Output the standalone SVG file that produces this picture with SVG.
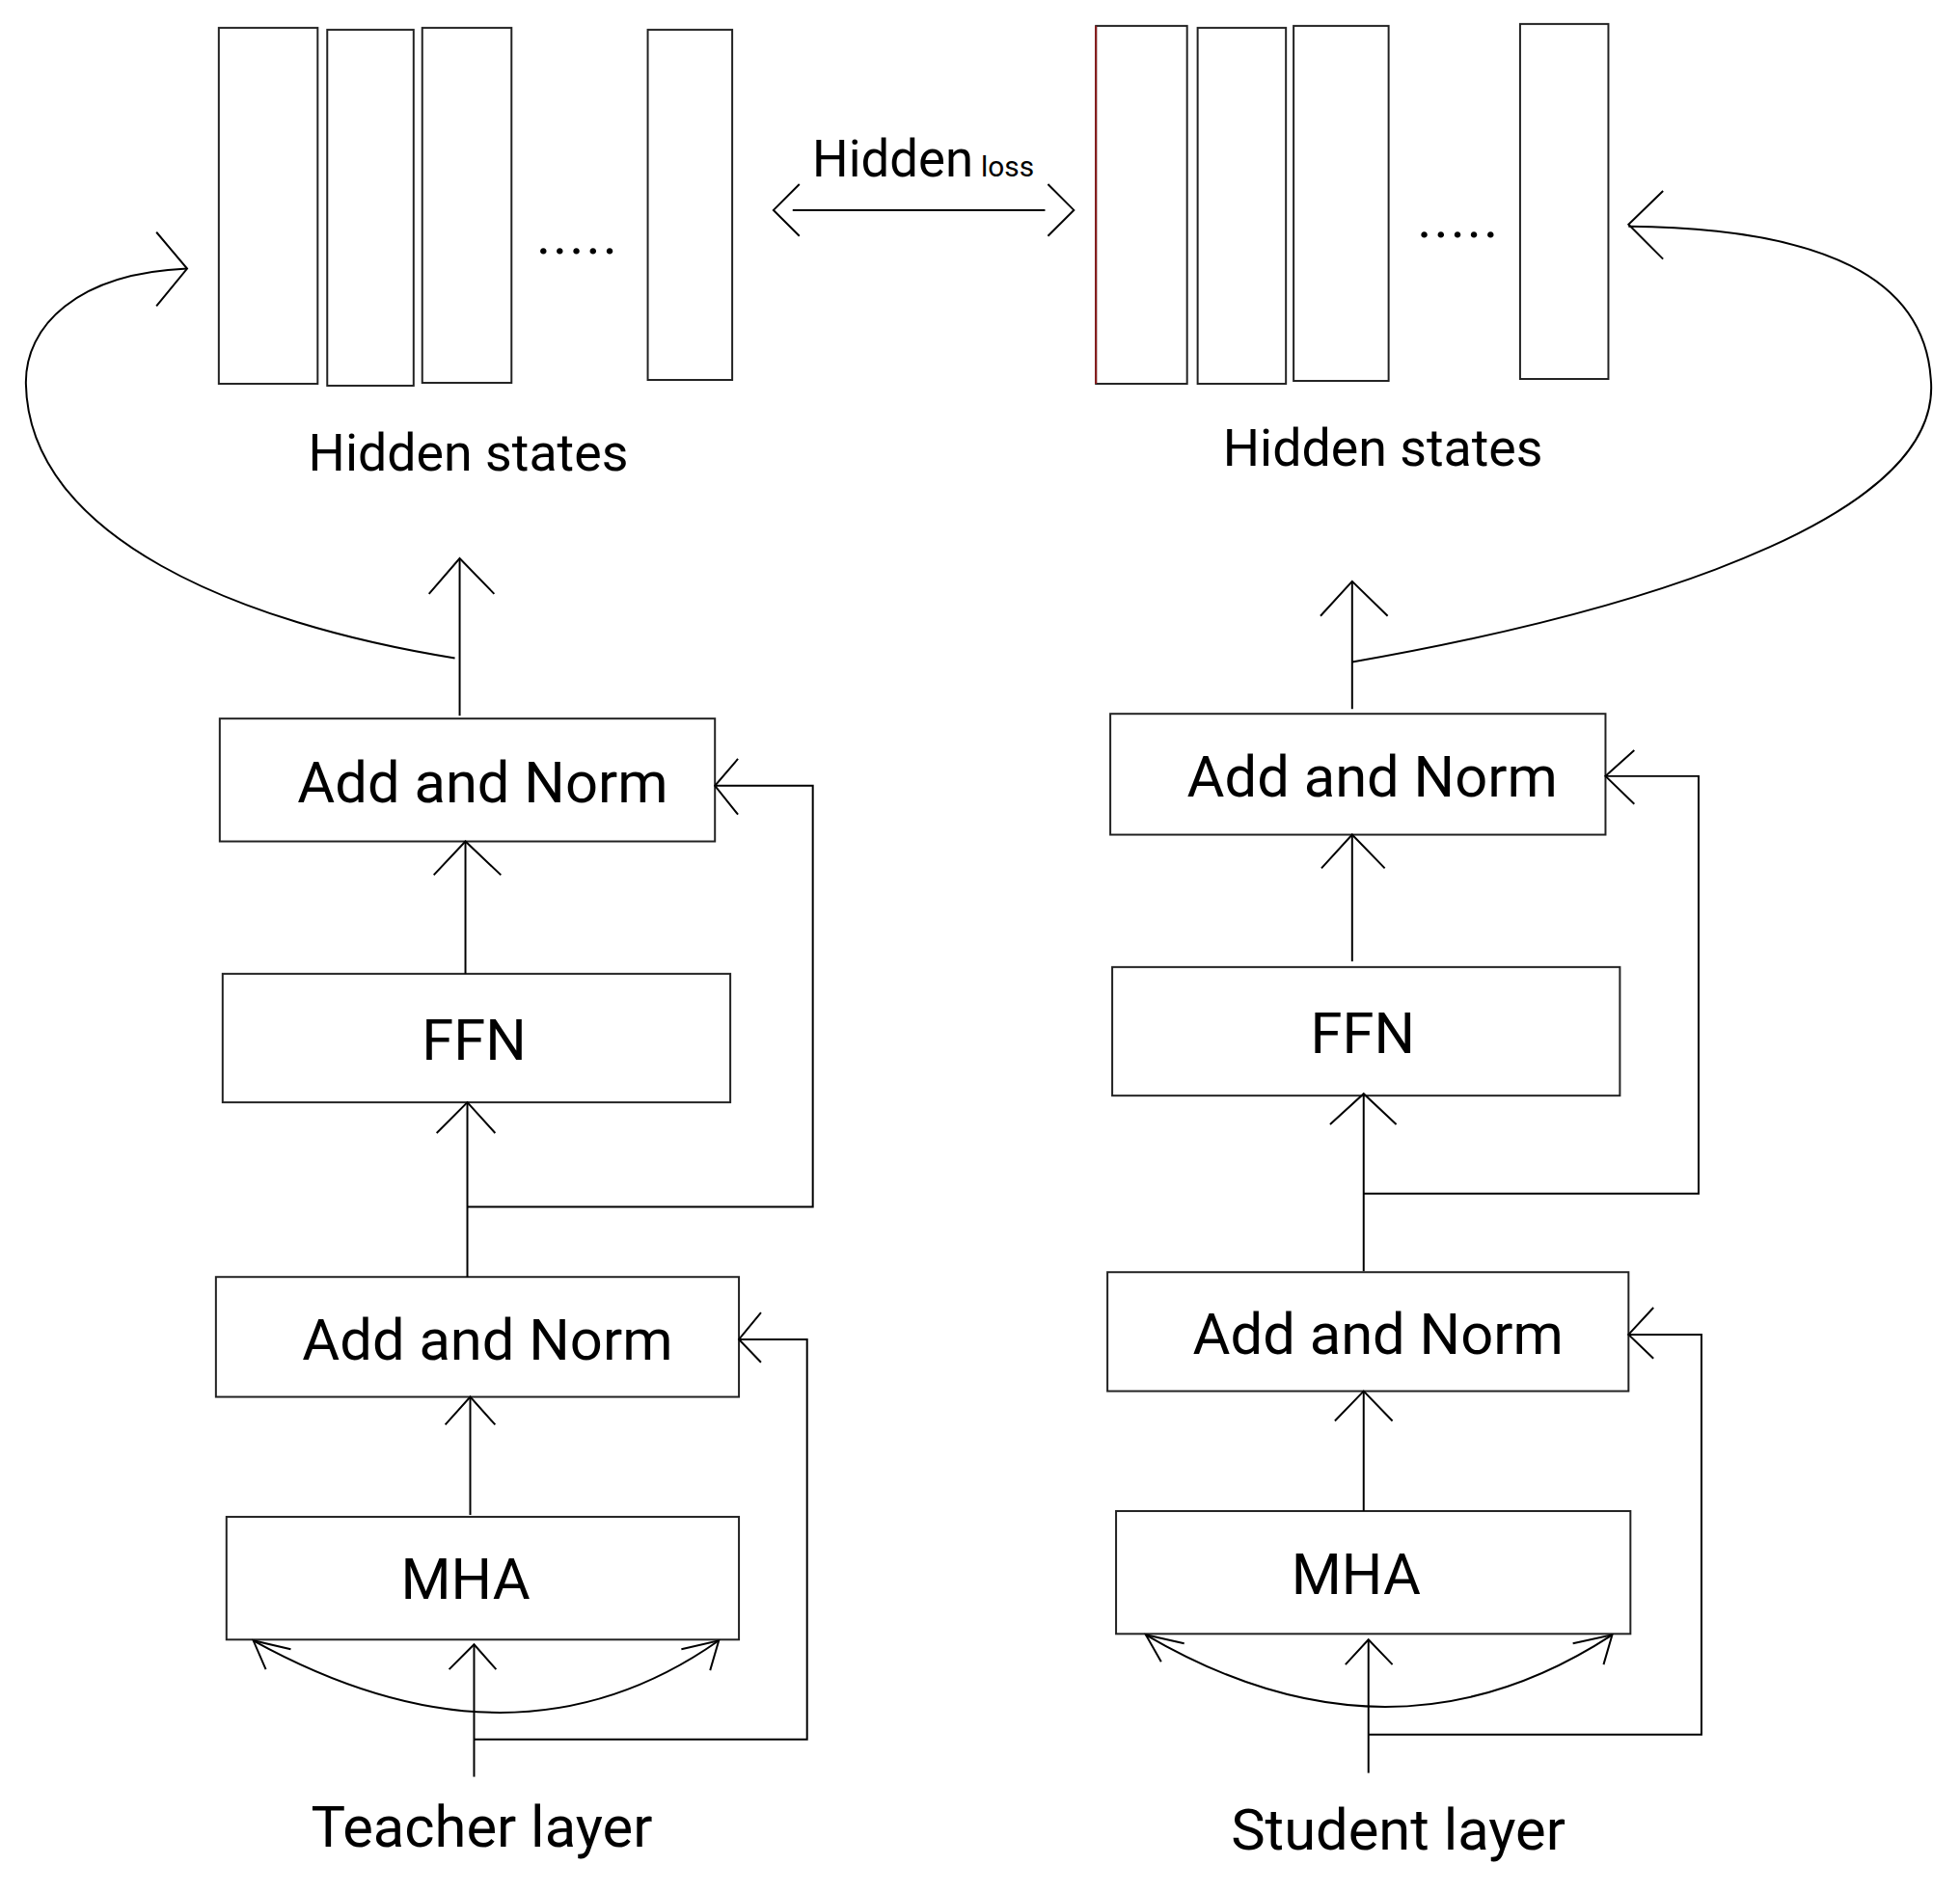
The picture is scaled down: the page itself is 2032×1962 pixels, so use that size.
<svg xmlns="http://www.w3.org/2000/svg" width="2032" height="1962" viewBox="0 0 2032 1962">
<style>
.box{fill:#fff;stroke:#222;stroke-width:2}
.ln{fill:none;stroke:#000;stroke-width:2}
.t{font-family:Roboto,"Liberation Sans",sans-serif;fill:#000;text-anchor:middle}
.big{font-size:60px}
.mid{font-size:54px}
.dots{font-size:58px;letter-spacing:2px}
</style>
<rect width="2032" height="1962" fill="#fff"/>
<g id="diagram" transform="scale(0.9949)">

<g id="teacher-hidden-states">
<rect class="box" x="228" y="29" width="103" height="371"/>
<rect class="box" x="341" y="31" width="90" height="371"/>
<rect class="box" x="440" y="29" width="93" height="370"/>
<rect class="box" x="675" y="31" width="88" height="365"/>
<text class="t dots" x="602" y="264">.....</text>
<text class="t mid" x="488" y="491">Hidden states</text>
</g>

<g id="student-hidden-states">
<rect class="box" x="1142" y="27" width="95" height="373"/>
<line x1="1142" y1="27" x2="1142" y2="400" stroke="#8b1a1a" stroke-width="2"/>
<rect class="box" x="1248" y="29" width="92" height="371"/>
<rect class="box" x="1348" y="27" width="99" height="370"/>
<rect class="box" x="1584" y="25" width="92" height="370"/>
<text class="t dots" x="1520" y="247">.....</text>
<text class="t mid" x="1441" y="485">Hidden states</text>
</g>

<g id="hidden-loss">
<text class="t" x="962" y="184" text-anchor="middle"><tspan font-size="53">Hidden</tspan><tspan font-size="30" dx="8">loss</tspan></text>
</g>

<g id="teacher-add-norm-2">
<rect class="box" x="229" y="749" width="516" height="128"/>
<text class="t big" x="503" y="836">Add and Norm</text>
</g>
<g id="teacher-ffn">
<rect class="box" x="232" y="1015" width="529" height="134"/>
<text class="t big" x="494" y="1105">FFN</text>
</g>
<g id="teacher-add-norm-1">
<rect class="box" x="225" y="1331" width="545" height="125"/>
<text class="t big" x="508" y="1417">Add and Norm</text>
</g>
<g id="teacher-mha">
<rect class="box" x="236" y="1581" width="534" height="128"/>
<text class="t big" x="485" y="1667">MHA</text>
</g>
<g id="teacher-label">
<text class="t big" x="502" y="1925">Teacher layer</text>
</g>

<g id="student-add-norm-2">
<rect class="box" x="1157" y="744" width="516" height="126"/>
<text class="t big" x="1430" y="830">Add and Norm</text>
</g>
<g id="student-ffn">
<rect class="box" x="1159" y="1008" width="529" height="134"/>
<text class="t big" x="1420" y="1098">FFN</text>
</g>
<g id="student-add-norm-1">
<rect class="box" x="1154" y="1326" width="543" height="124"/>
<text class="t big" x="1436" y="1411">Add and Norm</text>
</g>
<g id="student-mha">
<rect class="box" x="1163" y="1575" width="536" height="128"/>
<text class="t big" x="1413" y="1661">MHA</text>
</g>
<g id="student-label">
<text class="t big" x="1457" y="1928">Student layer</text>
</g>

<g id="connectors" class="ln">
<line x1="826" y1="219" x2="1089" y2="219"/>
<polyline points="833,192 806,219 833,246"/>
<polyline points="1092,192 1119,219 1092,246"/>

<line x1="479" y1="746" x2="479" y2="582"/>
<polyline points="447,619 479,582 515,619"/>
<path d="M474,686 C250,650 30,560 27,400 C26,340 80,285 195,280"/>
<polyline points="163,242 195,280 163,319"/>

<line x1="485" y1="1015" x2="485" y2="877"/>
<polyline points="452,912 485,877 522,912"/>

<line x1="487" y1="1331" x2="487" y2="1149"/>
<polyline points="455,1181 487,1149 516,1181"/>
<polyline points="487,1258 847,1258 847,819 745,819"/>
<polyline points="769,791 745,819 769,849"/>

<line x1="490" y1="1579" x2="490" y2="1456"/>
<polyline points="464,1485 490,1456 516,1485"/>

<line x1="494" y1="1852" x2="494" y2="1714"/>
<polyline points="468,1740 494,1714 517,1740"/>
<polyline points="494,1813 841,1813 841,1396 770,1396"/>
<polyline points="793,1368 770,1396 793,1420"/>

<path d="M264,1710 Q536,1860 749,1710"/>
<polyline points="303,1719 264,1710 277,1740"/>
<polyline points="710,1719 749,1710 740,1741"/>

<line x1="1409" y1="739" x2="1409" y2="606"/>
<polyline points="1376,642 1409,606 1446,642"/>
<path d="M1409,690 C1750,630 2025,530 2012,395 C2005,290 1900,238 1697,236"/>
<polyline points="1733,199 1697,234 1733,270"/>

<line x1="1409" y1="1002" x2="1409" y2="870"/>
<polyline points="1377,905 1409,870 1443,905"/>

<line x1="1421" y1="1325" x2="1421" y2="1140"/>
<polyline points="1386,1172 1421,1140 1455,1172"/>
<polyline points="1421,1244 1770,1244 1770,809 1673,809"/>
<polyline points="1703,782 1673,809 1703,838"/>

<line x1="1421" y1="1575" x2="1421" y2="1450"/>
<polyline points="1391,1481 1421,1450 1451,1481"/>

<line x1="1426" y1="1848" x2="1426" y2="1709"/>
<polyline points="1402,1735 1426,1709 1451,1735"/>
<polyline points="1426,1808 1773,1808 1773,1391 1697,1391"/>
<polyline points="1723,1363 1697,1391 1723,1416"/>

<path d="M1194,1704 Q1450,1854 1680,1704"/>
<polyline points="1234,1713 1194,1704 1210,1732"/>
<polyline points="1639,1713 1680,1704 1671,1735"/>
</g>
</g>
</svg>
